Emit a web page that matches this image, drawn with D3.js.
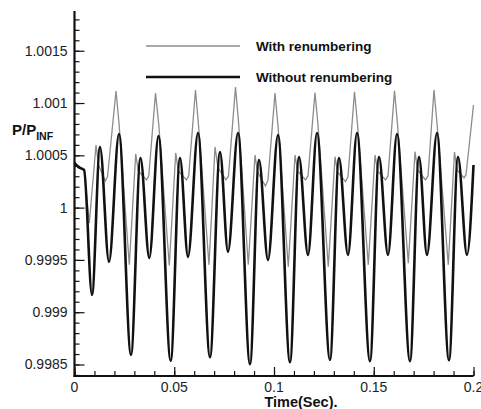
<!DOCTYPE html>
<html><head><meta charset="utf-8">
<script src="https://cdn.jsdelivr.net/npm/d3@7"></script>
<style>body{margin:0;background:#fff}svg{display:block}</style>
</head><body>
<svg id="c" width="481" height="409"></svg>
<script>
const seriesNames = ["With renumbering", "Without renumbering"];
const xTicks = [0, 0.05, 0.1, 0.15, 0.2];
const xTickLabels = ["0", "0.05", "0.1", "0.15", "0.2"];
const yTicks = [0.9985, 0.999, 0.9995, 1, 1.0005, 1.001, 1.0015];
const yTickLabels = ["0.9985", "0.999", "0.9995", "1", "1.0005", "1.001", "1.0015"];

// With renumbering (gray)
const withT = [0,0.00175,0.00476,0.00742,0.01078,0.01203,0.01544,0.01654,0.02080,0.02231,
 0.02747,0.03068,0.03198,0.03614,0.03724,0.04060,0.04226,
 0.04752,0.05073,0.05203,0.05614,0.05724,0.06065,0.06216,
 0.06742,0.07043,0.07193,0.07594,0.07719,0.08070,0.08221,
 0.08712,0.09048,0.09173,0.09574,0.09699,0.10050,0.10201,
 0.10717,0.11053,0.11178,0.11579,0.11704,0.12055,0.12206,
 0.12722,0.13058,0.13183,0.13584,0.13709,0.14035,0.14185,
 0.14727,0.15063,0.15188,0.15589,0.15714,0.16040,0.16190,
 0.16732,0.17068,0.17193,0.17594,0.17719,0.18020,0.18170,
 0.18737,0.19048,0.19173,0.19524,0.19624,0.2];
const withV = [1.000427,1.000389,1.000360,0.999854,1.000599,1.000408,1.000255,1.000294,1.001115,1.000809,
 0.999453,1.000513,1.000351,1.000265,1.000303,1.001096,1.000790,
 0.999446,1.000523,1.000351,1.000265,1.000303,1.001124,1.000790,
 0.999453,1.000580,1.000380,1.000265,1.000303,1.001153,1.000819,
 0.999453,1.000503,1.000341,1.000207,1.000265,1.001096,1.000781,
 0.999436,1.000503,1.000351,1.000265,1.000303,1.001099,1.000790,
 0.999436,1.000487,1.000341,1.000248,1.000294,1.001108,1.000800,
 0.999453,1.000503,1.000351,1.000265,1.000303,1.001118,1.000800,
 0.999469,1.000535,1.000360,1.000265,1.000303,1.001124,1.000809,
 0.999453,1.000532,1.000360,1.000284,1.000312,1.000981];

// Without renumbering (black)
const withoutT = [0,0.0018,0.0048,0.00877,0.01278,0.01729,0.02231,
 0.02832,0.03308,0.03749,0.04211,
 0.04822,0.05288,0.05689,0.06190,
 0.06792,0.07293,0.07694,0.08195,
 0.08797,0.09248,0.09699,0.10201,
 0.10802,0.11253,0.11704,0.12155,
 0.12807,0.13258,0.13709,0.14160,
 0.14812,0.15263,0.15714,0.16165,
 0.16817,0.17268,0.17669,0.18170,
 0.18772,0.19223,0.19674,0.2];
const withoutV = [1.000427,1.00039,1.00036,0.999166,1.00058,0.999481,1.000704,
 0.998593,1.000475,0.999519,1.000685,
 0.998535,1.000475,0.999529,1.000714,
 0.998569,1.000532,0.999577,1.000714,
 0.998502,1.000456,0.999500,1.000695,
 0.998521,1.000484,0.999548,1.000714,
 0.998545,1.000475,0.999548,1.000714,
 0.998531,1.000484,0.999548,1.000704,
 0.998531,1.000484,0.999548,1.000714,
 0.998540,1.000484,0.999548,1.000408];

const svg = d3.select("#c");
const x = d3.scaleLinear().domain([0, 0.2]).range([74.5, 473.5]);
const y = d3.scaleLinear().domain([0.99839, 1.00188]).range([376, 11]);
const font = "Liberation Sans, Arial, Helvetica, sans-serif";

const withData = withT.map((t,i)=>[t, withV[i]]);
const withoutData = withoutT.map((t,i)=>[t, withoutV[i]]);

svg.append("path").datum(withData)
  .attr("fill","none").attr("stroke","#8c8c8c").attr("stroke-width",1.3)
  .attr("stroke-linejoin","miter")
  .attr("d", d3.line().x(d=>x(d[0])).y(d=>y(d[1])).curve(d3.curveLinear));

svg.append("path").datum(withoutData)
  .attr("fill","none").attr("stroke","#111").attr("stroke-width",2.6)
  .attr("d", d3.line().x(d=>x(d[0])).y(d=>y(d[1])).curve(d3.curveMonotoneX));

// Axes (ticks pointing inward)
const minorX = d3.range(0, 0.2001, 0.01);
const minorY = d3.range(0.9984, 1.00185, 0.0001);

const gx = svg.append("g").attr("transform", `translate(0,${y.range()[0]})`);
gx.call(d3.axisTop(x).tickValues(minorX).tickSize(5).tickFormat(""))
  .call(g=>g.select(".domain").remove());
gx.append("g").call(d3.axisTop(x).tickValues(xTicks).tickSize(9).tickFormat(""))
  .call(g=>g.select(".domain").remove());
gx.selectAll("line").attr("stroke","#111").attr("stroke-width",1.2);
gx.selectAll(".lbl").data(xTicks).join("text")
  .attr("x", d=>x(d)).attr("y", 16)
  .attr("text-anchor","middle").attr("font-family",font).attr("font-size",14)
  .attr("fill","#222").text((d,i)=>xTickLabels[i]);

const gy = svg.append("g").attr("transform", `translate(${x.range()[0]},0)`);
gy.call(d3.axisRight(y).tickValues(minorY).tickSize(5).tickFormat(""))
  .call(g=>g.select(".domain").remove());
gy.append("g").call(d3.axisRight(y).tickValues(yTicks).tickSize(10).tickFormat(""))
  .call(g=>g.select(".domain").remove());
gy.selectAll("line").attr("stroke","#111").attr("stroke-width",1.2);
gy.selectAll(".lbl").data(yTicks).join("text")
  .attr("x", -7).attr("y", d=>y(d)).attr("dy","0.35em")
  .attr("text-anchor","end").attr("font-family",font).attr("font-size",14)
  .attr("fill","#222").text((d,i)=>yTickLabels[i]);

// axis lines
svg.append("line").attr("x1",x.range()[0]).attr("x2",x.range()[0])
  .attr("y1",y.range()[1]).attr("y2",y.range()[0]+1).attr("stroke","#111").attr("stroke-width",2.2);
svg.append("line").attr("x1",x.range()[0]-1).attr("x2",x.range()[1])
  .attr("y1",y.range()[0]).attr("y2",y.range()[0]).attr("stroke","#111").attr("stroke-width",2.2);

// axis titles
svg.append("text").attr("x", 301).attr("y", 407).attr("text-anchor","middle")
  .attr("font-family",font).attr("font-size",14.5).attr("font-weight","bold")
  .attr("fill","#111").text("Time(Sec).");
const yt = svg.append("text").attr("x", 12).attr("y", 135)
  .attr("font-family",font).attr("font-weight","bold").attr("fill","#111");
yt.append("tspan").attr("font-size",15).text("P/P");
yt.append("tspan").attr("font-size",10.5).attr("dy",5).text("INF");

// legend
const leg = [{y:46, c:"#8c8c8c", w:1.3}, {y:77, c:"#111", w:2.6}];
leg.forEach((l,i)=>{
  svg.append("line").attr("x1",146).attr("x2",240).attr("y1",l.y).attr("y2",l.y)
    .attr("stroke",l.c).attr("stroke-width",l.w);
  svg.append("text").attr("x",256).attr("y",l.y).attr("dy","0.36em")
    .attr("font-family",font).attr("font-size",13.5).attr("font-weight","bold")
    .attr("fill","#111").text(seriesNames[i]);
});
</script>
</body></html>
